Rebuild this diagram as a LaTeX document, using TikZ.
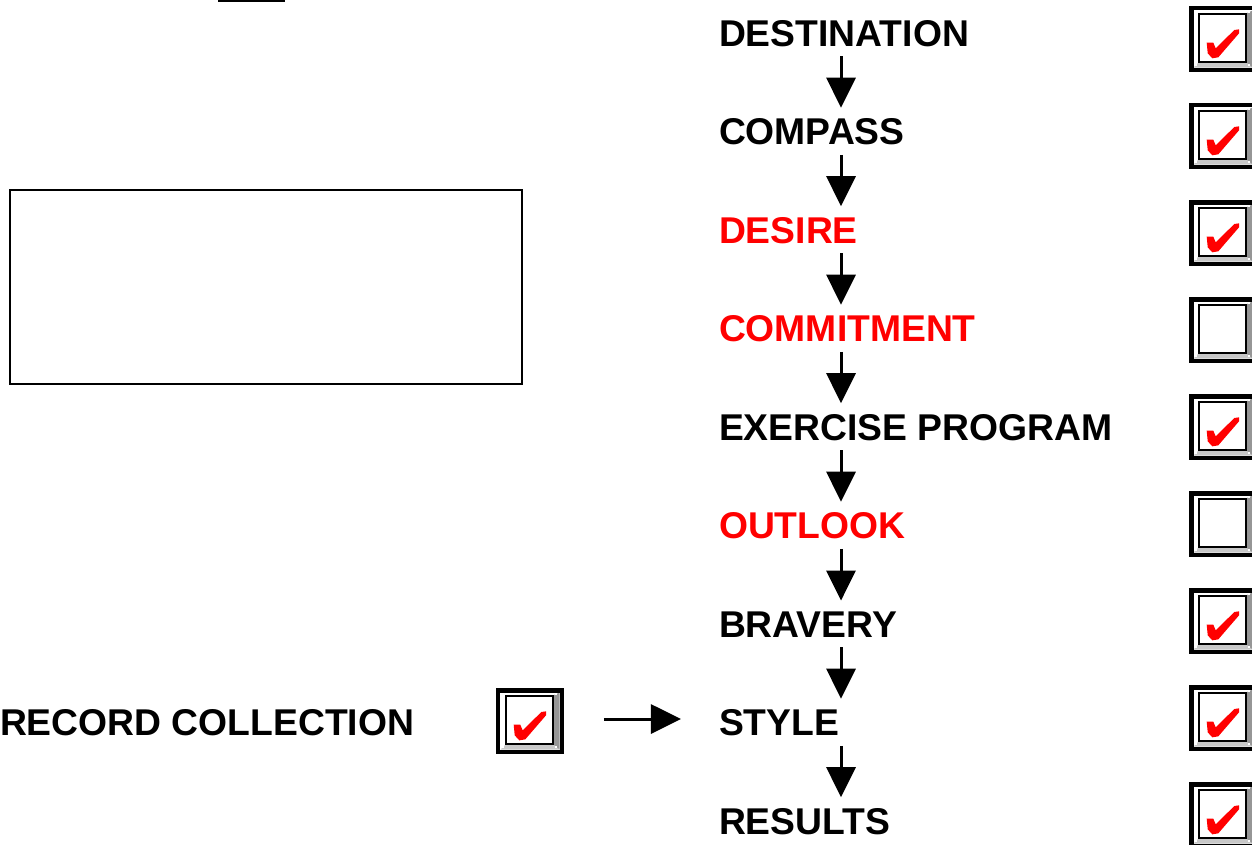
\documentclass[tikz,border=0pt]{standalone}
\usepackage{fontspec}
\setmainfont{Liberation Sans}
\usetikzlibrary{arrows.meta}

\definecolor{bandlo}{RGB}{200,200,200}
\definecolor{banddk}{RGB}{150,150,150}

% bevelled frame inside a check box (local units, y downwards)
\newcommand\bevelframe{%
  \begin{scope}[shift={(path picture bounding box.center)}]
    \fill[bandlo] (-29.5,28.5) -- (29.5,28.5) -- (24,24) -- (-25,24) -- cycle;
    \fill[banddk] (29.5,-28.5) -- (29.5,28.5) -- (24,24) -- (24,-26) -- cycle;
    \draw[line width=0.022cm] (-23.9,-24.9) rectangle (22.9,22.9);
    \foreach \p in {(-27.5,-27),(25.5,-27),(-27.5,26),(25.5,26)}
      \fill \p +(-1,-1) rectangle +(1,1);
  \end{scope}}
% red tick mark
\newcommand\tickmark{%
  \begin{scope}[shift={(path picture bounding box.center)}]
    \fill[red] (-16.3,3.7) -- (-9.7,3.7) -- (-7.3,9.3) -- (11.3,-9) -- (16,-9.7)
      -- (16,-5.7) -- (-4.7,18.3) -- (-10.7,19.3) -- (-15.3,14.3) -- cycle;
  \end{scope}}

\tikzset{
  lbl/.style={anchor=base west, inner sep=0pt, outer sep=0pt,
    font=\bfseries\fontsize{10.6}{12}\selectfont},
  hot/.style={lbl, text=red},
  boxbase/.style={rectangle, draw=black, line width=0.045cm, fill=white,
    minimum width=0.635cm, minimum height=0.615cm, inner sep=0pt, outer sep=0pt},
  openbox/.style={boxbase, path picture={\bevelframe}},
  tickbox/.style={boxbase, path picture={\bevelframe\tickmark}},
  flow/.style={line width=0.03cm, -{Triangle[length=0.3cm, width=0.29cm]}},
  vflow/.style={flow, shorten <=1.0mm, shorten >=1.08mm},
}

\begin{document}
\begin{tikzpicture}[x=0.01cm, y=-0.01cm]
  \useasboundingbox (0,0) rectangle (1252,844);
  \clip (0,0) rectangle (1252,844);

  % short rule along the top edge
  \fill[black] (218,0) rectangle (285,2);

  % empty panel on the left
  \draw[line width=0.02cm] (10,190) rectangle (522,384);

  % chain of steps
  \node[lbl] (r0) at (719,46)    {DESTINATION};
  \node[lbl] (r1) at (719,144.5) {COMPASS};
  \node[hot] (r2) at (719,243)   {DESIRE};
  \node[hot] (r3) at (719,341.5) {COMMITMENT};
  \node[lbl] (r4) at (719,440)   {EXERCISE PROGRAM};
  \node[hot] (r5) at (719,538.5) {OUTLOOK};
  \node[lbl] (r6) at (719,637)   {BRAVERY};
  \node[lbl] (r7) at (719,735.5) {STYLE};
  \node[lbl] (r8) at (719,834)   {RESULTS};

  \coordinate (ax) at (841,0);
  \foreach \a/\b in {r0/r1,r1/r2,r2/r3,r3/r4,r4/r5,r5/r6,r6/r7,r7/r8}
    \draw[vflow] (\a.south -| ax) -- (\b.north -| ax);

  % check boxes of the chain
  \node[tickbox] (b0) at (1223,39)  {};
  \node[tickbox] (b1) at (1223,136) {};
  \node[tickbox] (b2) at (1223,233) {};
  \node[openbox] (b3) at (1223,330) {};
  \node[tickbox] (b4) at (1223,427) {};
  \node[openbox] (b5) at (1223,524) {};
  \node[tickbox] (b6) at (1223,621) {};
  \node[tickbox] (b7) at (1223,718) {};
  \node[tickbox] (b8) at (1223,815) {};

  % side input
  \node[lbl] (rec) at (0,735) {RECORD COLLECTION};
  \node[tickbox] (rb) at (530,721) {};
  \draw[flow, shorten <=4.2mm, shorten >=3.8mm] ([yshift=0.02cm]rb.east)
    -- ([yshift=0.02cm]rb.east -| r7.west);
\end{tikzpicture}
\end{document}
